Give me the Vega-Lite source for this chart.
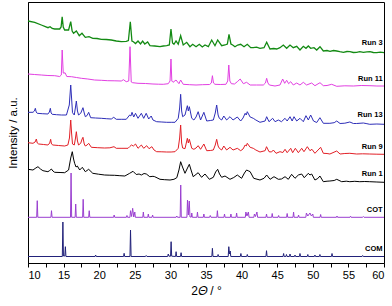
{
"$schema":"https://vega.github.io/schema/vega-lite/v6.json",
"width":356,"height":261,
"autosize":{"type":"none"},
"padding":{"left":28,"top":2,"right":8,"bottom":43},
"background":"white",
"config":{"view":{"stroke":"black","strokeWidth":1},"font":"Liberation Sans"},
"datasets":{
"run3":[{"x":10,"y":242},{"x":10.94,"y":240.7},{"x":11.87,"y":238},{"x":12.81,"y":235.3},{"x":13.1,"y":236.3},{"x":13.4,"y":234.5},{"x":13.75,"y":234},{"x":14.45,"y":234},{"x":14.65,"y":236},{"x":14.8,"y":246.3},{"x":14.95,"y":236},{"x":15.15,"y":233},{"x":15.7,"y":233},{"x":16.0,"y":241.3},{"x":16.2,"y":232},{"x":16.4,"y":229.7},{"x":16.79,"y":232},{"x":17.2,"y":227.3},{"x":17.58,"y":229.7},{"x":18.05,"y":225.7},{"x":18.57,"y":226.3},{"x":19.1,"y":224.7},{"x":19.7,"y":224.5},{"x":20.3,"y":223.7},{"x":21.0,"y":223.5},{"x":21.7,"y":223},{"x":22.4,"y":222},{"x":23.1,"y":221.3},{"x":23.8,"y":221.7},{"x":24.1,"y":222.5},{"x":24.37,"y":241.3},{"x":24.6,"y":222},{"x":24.8,"y":221.3},{"x":25.1,"y":219.5},{"x":25.45,"y":222},{"x":25.8,"y":219},{"x":26.1,"y":222},{"x":26.4,"y":219},{"x":26.8,"y":221},{"x":27.13,"y":217.3},{"x":27.8,"y":217},{"x":28.54,"y":216.3},{"x":29.0,"y":217},{"x":29.48,"y":217.3},{"x":29.85,"y":218},{"x":30.08,"y":234},{"x":30.3,"y":220},{"x":30.5,"y":218.7},{"x":30.79,"y":222},{"x":31.1,"y":218.7},{"x":31.44,"y":227.3},{"x":31.8,"y":218},{"x":32.29,"y":220.7},{"x":32.75,"y":216.3},{"x":33.13,"y":218.7},{"x":33.6,"y":216.3},{"x":34.06,"y":218.7},{"x":34.48,"y":216},{"x":34.86,"y":218},{"x":35.33,"y":216.3},{"x":35.8,"y":223},{"x":36.26,"y":217.3},{"x":36.64,"y":223},{"x":37.2,"y":217.3},{"x":37.67,"y":218},{"x":38.0,"y":219},{"x":38.23,"y":228.7},{"x":38.5,"y":219},{"x":38.75,"y":218},{"x":39.07,"y":216.3},{"x":39.45,"y":218},{"x":39.87,"y":218.7},{"x":40.34,"y":216.3},{"x":40.8,"y":218.7},{"x":41.28,"y":215.3},{"x":41.64,"y":215.3},{"x":42.1,"y":215.8},{"x":42.58,"y":214.7},{"x":43.15,"y":215.3},{"x":43.52,"y":220.7},{"x":43.99,"y":214},{"x":44.5,"y":214.5},{"x":44.93,"y":214},{"x":45.39,"y":215.3},{"x":45.86,"y":218},{"x":46.33,"y":214.7},{"x":46.8,"y":218},{"x":47.26,"y":215.3},{"x":47.74,"y":216.7},{"x":48.2,"y":213},{"x":48.67,"y":216.7},{"x":49.04,"y":214.7},{"x":49.37,"y":217},{"x":49.7,"y":214.7},{"x":50.17,"y":215.3},{"x":50.55,"y":213},{"x":51.01,"y":216.3},{"x":51.48,"y":212},{"x":52.0,"y":212.5},{"x":52.42,"y":211.7},{"x":52.9,"y":212.5},{"x":53.36,"y":212},{"x":53.8,"y":211.3},{"x":54.29,"y":210.7},{"x":54.8,"y":211.5},{"x":55.22,"y":211.3},{"x":55.7,"y":210.5},{"x":56.16,"y":210.7},{"x":56.6,"y":211.3},{"x":57.1,"y":210.7},{"x":57.6,"y":211.2},{"x":58.03,"y":211.3},{"x":58.5,"y":210.5},{"x":58.97,"y":210.3},{"x":59.5,"y":210.8},{"x":60,"y":210.3}],
"run11":[{"x":10,"y":189},{"x":10.9,"y":188.5},{"x":11.87,"y":188},{"x":12.8,"y":187.5},{"x":13.75,"y":187.3},{"x":14.45,"y":186.5},{"x":14.68,"y":188},{"x":14.8,"y":213},{"x":14.95,"y":190},{"x":15.05,"y":189.7},{"x":15.2,"y":190.3},{"x":15.45,"y":186.5},{"x":16.1,"y":186.3},{"x":16.8,"y":185.5},{"x":17.5,"y":184.7},{"x":18.4,"y":184},{"x":19.35,"y":183},{"x":20.3,"y":182.7},{"x":21.2,"y":182.3},{"x":22.2,"y":182.2},{"x":23.1,"y":182},{"x":23.4,"y":183.3},{"x":23.8,"y":181.3},{"x":24.15,"y":182},{"x":24.33,"y":216.3},{"x":24.5,"y":181},{"x":24.7,"y":180.3},{"x":25.45,"y":179.7},{"x":26.5,"y":179.5},{"x":27.55,"y":179},{"x":28.3,"y":178.8},{"x":29.0,"y":178.7},{"x":29.7,"y":179.3},{"x":29.95,"y":182},{"x":30.08,"y":204},{"x":30.2,"y":182},{"x":30.37,"y":180.7},{"x":30.79,"y":183},{"x":31.2,"y":179.3},{"x":31.44,"y":183},{"x":31.8,"y":178.7},{"x":32.7,"y":178.3},{"x":33.6,"y":178},{"x":34.5,"y":178.3},{"x":35.5,"y":178.5},{"x":35.75,"y":180},{"x":35.9,"y":187.3},{"x":36.05,"y":180},{"x":36.26,"y":178.7},{"x":37.0,"y":178.5},{"x":37.8,"y":178.7},{"x":38.05,"y":182},{"x":38.2,"y":198},{"x":38.35,"y":182},{"x":38.56,"y":179.3},{"x":39.0,"y":179},{"x":39.4,"y":181.3},{"x":39.8,"y":184},{"x":40.25,"y":179.3},{"x":40.7,"y":180.7},{"x":41.2,"y":178},{"x":42.1,"y":178},{"x":43.05,"y":178},{"x":43.35,"y":180},{"x":43.52,"y":184.7},{"x":43.7,"y":180},{"x":43.9,"y":178},{"x":44.69,"y":177},{"x":45.39,"y":178},{"x":45.77,"y":184},{"x":46.05,"y":179.7},{"x":46.33,"y":182.7},{"x":46.6,"y":179.3},{"x":46.9,"y":181.3},{"x":47.26,"y":178},{"x":47.74,"y":180},{"x":48.2,"y":178},{"x":48.67,"y":180.7},{"x":49.13,"y":178},{"x":49.84,"y":180},{"x":50.3,"y":177.3},{"x":51.01,"y":180.3},{"x":51.48,"y":177.3},{"x":52.0,"y":177.5},{"x":52.65,"y":178.7},{"x":53.36,"y":176.7},{"x":54.5,"y":177.2},{"x":55.7,"y":177},{"x":56.8,"y":177.5},{"x":58.03,"y":177.3},{"x":59.0,"y":177},{"x":60,"y":177}],
"run13":[{"x":10,"y":150.7},{"x":10.7,"y":150.7},{"x":10.9,"y":152},{"x":11.03,"y":154.7},{"x":11.15,"y":151},{"x":11.3,"y":149.7},{"x":12.0,"y":149.3},{"x":12.8,"y":149},{"x":13.0,"y":151},{"x":13.14,"y":154.7},{"x":13.25,"y":150},{"x":13.4,"y":148.7},{"x":14.0,"y":148.3},{"x":14.7,"y":148},{"x":15.4,"y":148},{"x":15.8,"y":158},{"x":16.0,"y":178},{"x":16.12,"y":165},{"x":16.25,"y":150.3},{"x":16.5,"y":148},{"x":16.65,"y":155},{"x":16.79,"y":162},{"x":16.95,"y":152},{"x":17.1,"y":148},{"x":17.4,"y":149.7},{"x":17.72,"y":155.3},{"x":17.9,"y":150},{"x":18.05,"y":146.3},{"x":18.3,"y":147.5},{"x":18.52,"y":150.7},{"x":18.8,"y":145.3},{"x":19.5,"y":145},{"x":20.3,"y":144.7},{"x":21.0,"y":144.3},{"x":21.7,"y":144},{"x":22.04,"y":145.7},{"x":22.4,"y":143.7},{"x":23.1,"y":143.7},{"x":23.8,"y":143.7},{"x":24.28,"y":148},{"x":24.45,"y":147},{"x":24.61,"y":150.7},{"x":24.85,"y":146},{"x":25.1,"y":149.7},{"x":25.45,"y":144.7},{"x":25.92,"y":149.7},{"x":26.25,"y":144.7},{"x":26.6,"y":149.7},{"x":26.95,"y":144},{"x":27.3,"y":147},{"x":27.55,"y":143},{"x":28.07,"y":141.3},{"x":28.8,"y":141},{"x":29.48,"y":140.7},{"x":30.2,"y":140.7},{"x":30.65,"y":140.7},{"x":31.1,"y":144.7},{"x":31.3,"y":155},{"x":31.44,"y":168.7},{"x":31.58,"y":152},{"x":31.72,"y":146.3},{"x":32.05,"y":148},{"x":32.38,"y":157.3},{"x":32.52,"y":152},{"x":32.66,"y":156.3},{"x":33.0,"y":144.7},{"x":33.3,"y":143},{"x":33.6,"y":146},{"x":33.9,"y":151.3},{"x":34.24,"y":143},{"x":34.7,"y":150.7},{"x":35.1,"y":142},{"x":35.6,"y":142.5},{"x":36.03,"y":143},{"x":36.3,"y":150},{"x":36.5,"y":158},{"x":36.7,"y":148},{"x":36.87,"y":144.7},{"x":37.2,"y":143},{"x":37.5,"y":147},{"x":37.9,"y":143},{"x":38.37,"y":146.3},{"x":38.8,"y":143},{"x":39.4,"y":146},{"x":39.87,"y":142},{"x":40.2,"y":145},{"x":40.5,"y":149.7},{"x":40.65,"y":148},{"x":40.8,"y":151.3},{"x":41.2,"y":146},{"x":41.64,"y":144.7},{"x":42.0,"y":143},{"x":42.58,"y":140.7},{"x":43.3,"y":142},{"x":43.52,"y":146.3},{"x":43.85,"y":141.3},{"x":44.36,"y":144.7},{"x":44.7,"y":141.3},{"x":45.16,"y":143},{"x":45.6,"y":141.3},{"x":46.1,"y":144.7},{"x":46.4,"y":142},{"x":46.8,"y":146.3},{"x":47.1,"y":142},{"x":47.36,"y":146.3},{"x":47.74,"y":142},{"x":48.2,"y":144.7},{"x":48.67,"y":141.3},{"x":49.04,"y":147.3},{"x":49.37,"y":143},{"x":49.7,"y":148},{"x":50.1,"y":142},{"x":50.55,"y":140.5},{"x":51.0,"y":145.3},{"x":51.48,"y":139.7},{"x":52.4,"y":139.7},{"x":53.0,"y":140.3},{"x":53.36,"y":142},{"x":53.83,"y":139.5},{"x":54.5,"y":139.8},{"x":55.2,"y":141},{"x":55.7,"y":139.5},{"x":56.16,"y":139.5},{"x":57.1,"y":140},{"x":57.6,"y":139.3},{"x":58.0,"y":138.7},{"x":59.0,"y":139},{"x":60,"y":138.7}],
"run9":[{"x":10,"y":120.3},{"x":10.7,"y":119.7},{"x":11.0,"y":121},{"x":11.17,"y":124},{"x":11.3,"y":120},{"x":11.5,"y":119},{"x":12.2,"y":118.5},{"x":12.8,"y":118},{"x":13.05,"y":120},{"x":13.18,"y":123.7},{"x":13.3,"y":119},{"x":13.5,"y":118},{"x":14.3,"y":117.5},{"x":15.15,"y":117},{"x":15.6,"y":118},{"x":15.82,"y":125},{"x":16.0,"y":143},{"x":16.12,"y":130},{"x":16.25,"y":119},{"x":16.5,"y":118},{"x":16.65,"y":124},{"x":16.79,"y":131.3},{"x":16.95,"y":122},{"x":17.1,"y":118},{"x":17.4,"y":119.7},{"x":17.6,"y":124},{"x":17.72,"y":125.7},{"x":17.9,"y":119},{"x":18.05,"y":117},{"x":18.3,"y":118},{"x":18.52,"y":119.7},{"x":18.9,"y":115.7},{"x":19.8,"y":115.3},{"x":20.77,"y":115},{"x":21.5,"y":115.2},{"x":22.08,"y":116.3},{"x":22.4,"y":114.7},{"x":23.2,"y":114.7},{"x":24.05,"y":114.7},{"x":24.3,"y":116.5},{"x":24.52,"y":118},{"x":24.8,"y":117},{"x":25.1,"y":119},{"x":25.45,"y":114.7},{"x":25.92,"y":118},{"x":26.25,"y":114.7},{"x":26.67,"y":117.3},{"x":27.0,"y":114.3},{"x":27.4,"y":116.3},{"x":27.7,"y":113},{"x":28.07,"y":111.3},{"x":28.8,"y":111.2},{"x":29.48,"y":111},{"x":30.1,"y":111},{"x":30.65,"y":111.3},{"x":31.1,"y":114.7},{"x":31.3,"y":125},{"x":31.44,"y":138},{"x":31.58,"y":120},{"x":31.72,"y":115},{"x":32.05,"y":114.3},{"x":32.38,"y":124.7},{"x":32.52,"y":120},{"x":32.66,"y":123.7},{"x":33.0,"y":114.7},{"x":33.3,"y":113.7},{"x":33.6,"y":115},{"x":33.9,"y":117.3},{"x":34.24,"y":113.7},{"x":34.7,"y":119},{"x":35.1,"y":112.3},{"x":35.6,"y":112.5},{"x":36.03,"y":113},{"x":36.3,"y":118},{"x":36.5,"y":123.7},{"x":36.7,"y":117},{"x":36.87,"y":114.7},{"x":37.2,"y":113},{"x":37.5,"y":117},{"x":37.9,"y":113},{"x":38.37,"y":115.7},{"x":38.8,"y":113},{"x":39.4,"y":114.7},{"x":39.87,"y":112.3},{"x":40.2,"y":114},{"x":40.5,"y":118},{"x":40.65,"y":117},{"x":40.8,"y":119.7},{"x":41.2,"y":115.7},{"x":41.64,"y":114.7},{"x":42.0,"y":113},{"x":42.58,"y":111},{"x":43.3,"y":112.3},{"x":43.5,"y":116.3},{"x":43.85,"y":111.3},{"x":44.2,"y":111},{"x":44.46,"y":113},{"x":44.84,"y":109.7},{"x":45.39,"y":111.3},{"x":45.8,"y":110.5},{"x":46.1,"y":113.7},{"x":46.4,"y":110.3},{"x":46.9,"y":114.7},{"x":47.17,"y":110.3},{"x":47.55,"y":114.7},{"x":47.97,"y":110.3},{"x":48.44,"y":114.7},{"x":48.76,"y":111.3},{"x":49.23,"y":116.3},{"x":49.6,"y":112.3},{"x":49.88,"y":113.7},{"x":50.3,"y":109.7},{"x":51.1,"y":115.7},{"x":51.48,"y":109.7},{"x":52.0,"y":109.5},{"x":52.4,"y":109},{"x":53.36,"y":112},{"x":53.83,"y":109},{"x":54.5,"y":109.5},{"x":55.2,"y":109.7},{"x":56.16,"y":109},{"x":57.0,"y":109.2},{"x":58.0,"y":109},{"x":59.0,"y":108.8},{"x":60,"y":108.7}],
"run1":[{"x":10,"y":93.7},{"x":10.7,"y":93},{"x":11.1,"y":95},{"x":11.4,"y":96.3},{"x":11.75,"y":94},{"x":12.1,"y":92.3},{"x":12.8,"y":91.3},{"x":13.05,"y":92.5},{"x":13.28,"y":94},{"x":13.5,"y":92},{"x":13.75,"y":90.7},{"x":14.5,"y":90.5},{"x":15.15,"y":90.3},{"x":15.7,"y":93},{"x":16.0,"y":105},{"x":16.22,"y":111.3},{"x":16.4,"y":104},{"x":16.55,"y":99.7},{"x":16.75,"y":96},{"x":16.93,"y":97},{"x":17.26,"y":93},{"x":17.63,"y":95.7},{"x":18.05,"y":91.3},{"x":18.52,"y":93.7},{"x":19.1,"y":89.7},{"x":19.9,"y":88.8},{"x":20.77,"y":88},{"x":21.5,"y":87.8},{"x":22.17,"y":87.7},{"x":22.9,"y":87.3},{"x":23.6,"y":87},{"x":24.28,"y":89.7},{"x":24.75,"y":91.7},{"x":25.2,"y":88.5},{"x":25.6,"y":89},{"x":25.92,"y":88},{"x":26.3,"y":89.5},{"x":26.62,"y":89},{"x":27.1,"y":86.3},{"x":27.55,"y":86.7},{"x":27.8,"y":86.3},{"x":28.54,"y":83.7},{"x":29.2,"y":83.3},{"x":29.95,"y":83},{"x":30.5,"y":83.7},{"x":30.9,"y":85.3},{"x":31.2,"y":93},{"x":31.44,"y":101.3},{"x":31.7,"y":96},{"x":32.05,"y":89.7},{"x":32.4,"y":95},{"x":32.66,"y":98.7},{"x":32.9,"y":93},{"x":33.2,"y":86.3},{"x":33.9,"y":90.3},{"x":34.38,"y":85.7},{"x":34.86,"y":89},{"x":35.47,"y":83.7},{"x":36.03,"y":85.7},{"x":36.35,"y":91},{"x":36.64,"y":93.7},{"x":36.9,"y":89},{"x":37.2,"y":85.7},{"x":37.67,"y":87},{"x":38.37,"y":83.7},{"x":38.9,"y":85.5},{"x":39.4,"y":88},{"x":40.0,"y":84.7},{"x":40.4,"y":90},{"x":40.7,"y":93},{"x":41.0,"y":92},{"x":41.2,"y":91.3},{"x":41.7,"y":84.7},{"x":42.58,"y":83},{"x":43.15,"y":84.7},{"x":43.52,"y":88},{"x":44.0,"y":83.7},{"x":44.55,"y":86.3},{"x":45.16,"y":83.7},{"x":45.6,"y":84},{"x":46.1,"y":86.3},{"x":46.56,"y":83.7},{"x":47.03,"y":88.7},{"x":47.5,"y":84.7},{"x":47.97,"y":88},{"x":48.44,"y":89},{"x":48.8,"y":85.3},{"x":49.37,"y":89.7},{"x":49.6,"y":88},{"x":49.84,"y":89},{"x":50.3,"y":83},{"x":50.7,"y":84.5},{"x":51.0,"y":87},{"x":51.48,"y":81.3},{"x":52.0,"y":81.8},{"x":52.4,"y":82},{"x":53.0,"y":82.5},{"x":53.36,"y":83.7},{"x":54.06,"y":81.3},{"x":54.7,"y":81.8},{"x":55.2,"y":81.3},{"x":55.9,"y":81.7},{"x":56.6,"y":81.3},{"x":57.3,"y":81.5},{"x":58.0,"y":81.3},{"x":59.0,"y":81},{"x":60,"y":80.7}],
"cot":[{"x":10,"y":45.7},{"x":11.22,"y":45.7},{"x":11.3,"y":62.3},{"x":11.38,"y":45.7},{"x":13.22,"y":45.7},{"x":13.3,"y":52.3},{"x":13.38,"y":45.7},{"x":15.97,"y":45.7},{"x":16.05,"y":90},{"x":16.13,"y":45.7},{"x":16.62,"y":45.7},{"x":16.7,"y":59},{"x":16.78,"y":45.7},{"x":17.67,"y":45.7},{"x":17.75,"y":63.7},{"x":17.83,"y":45.7},{"x":18.52,"y":45.7},{"x":18.6,"y":52.3},{"x":18.68,"y":45.7},{"x":22.02,"y":45.7},{"x":22.1,"y":48},{"x":22.18,"y":45.7},{"x":23.82,"y":45.7},{"x":23.9,"y":47.5},{"x":23.98,"y":45.7},{"x":24.32,"y":45.7},{"x":24.4,"y":52.3},{"x":24.55,"y":46.5},{"x":24.7,"y":54.7},{"x":24.85,"y":46},{"x":25.0,"y":51},{"x":25.08,"y":45.7},{"x":26.12,"y":45.7},{"x":26.2,"y":51},{"x":26.28,"y":45.7},{"x":26.82,"y":45.7},{"x":26.9,"y":49},{"x":26.98,"y":45.7},{"x":27.42,"y":45.7},{"x":27.5,"y":48},{"x":27.58,"y":45.7},{"x":30.8,"y":45.7},{"x":30.9,"y":47},{"x":31.0,"y":45.7},{"x":31.37,"y":45.7},{"x":31.45,"y":78},{"x":31.53,"y":45.7},{"x":32.32,"y":45.7},{"x":32.4,"y":63},{"x":32.52,"y":48},{"x":32.65,"y":62},{"x":32.75,"y":46},{"x":32.95,"y":46},{"x":33.0,"y":50},{"x":33.08,"y":45.7},{"x":33.72,"y":45.7},{"x":33.8,"y":51},{"x":33.88,"y":45.7},{"x":34.62,"y":45.7},{"x":34.7,"y":49},{"x":34.78,"y":45.7},{"x":35.5,"y":45.7},{"x":35.6,"y":47.5},{"x":35.7,"y":45.7},{"x":36.52,"y":45.7},{"x":36.6,"y":52.3},{"x":36.68,"y":45.7},{"x":37.52,"y":45.7},{"x":37.6,"y":49},{"x":37.68,"y":45.7},{"x":38.42,"y":45.7},{"x":38.5,"y":49},{"x":38.58,"y":45.7},{"x":39.22,"y":45.7},{"x":39.3,"y":50},{"x":39.38,"y":45.7},{"x":40.52,"y":45.7},{"x":40.6,"y":51},{"x":40.75,"y":47},{"x":40.95,"y":51},{"x":41.05,"y":45.7},{"x":41.72,"y":45.7},{"x":41.8,"y":49},{"x":41.95,"y":46.5},{"x":42.15,"y":51},{"x":42.25,"y":45.7},{"x":43.42,"y":45.7},{"x":43.5,"y":49},{"x":43.58,"y":45.7},{"x":44.22,"y":45.7},{"x":44.3,"y":49.5},{"x":44.38,"y":45.7},{"x":45.12,"y":45.7},{"x":45.2,"y":47.5},{"x":45.28,"y":45.7},{"x":46.32,"y":45.7},{"x":46.4,"y":49.5},{"x":46.48,"y":45.7},{"x":47.22,"y":45.7},{"x":47.3,"y":51},{"x":47.38,"y":45.7},{"x":47.92,"y":45.7},{"x":48.0,"y":48},{"x":48.08,"y":45.7},{"x":49.02,"y":45.7},{"x":49.1,"y":50},{"x":49.3,"y":47},{"x":49.6,"y":50},{"x":49.8,"y":47},{"x":50.0,"y":49},{"x":50.08,"y":45.7},{"x":51.02,"y":45.7},{"x":51.1,"y":48.5},{"x":51.18,"y":45.7},{"x":53.32,"y":45.7},{"x":53.4,"y":47},{"x":53.48,"y":45.7},{"x":55.22,"y":45.7},{"x":55.3,"y":46.8},{"x":55.38,"y":45.7},{"x":57.0,"y":45.7},{"x":57.1,"y":46.5},{"x":57.2,"y":45.7},{"x":60,"y":45.7}],
"com":[{"x":10,"y":6.5},{"x":14.82,"y":6.5},{"x":14.9,"y":41},{"x":14.98,"y":7},{"x":15.17,"y":7},{"x":15.25,"y":16.3},{"x":15.33,"y":6.5},{"x":19.42,"y":6.5},{"x":19.5,"y":8},{"x":19.58,"y":6.5},{"x":23.42,"y":6.5},{"x":23.5,"y":9.7},{"x":23.58,"y":6.5},{"x":24.32,"y":6.5},{"x":24.4,"y":33},{"x":24.48,"y":6.5},{"x":26.5,"y":6.5},{"x":26.6,"y":7.5},{"x":26.7,"y":6.5},{"x":29.62,"y":6.5},{"x":29.7,"y":9},{"x":29.8,"y":6.8},{"x":30.02,"y":6.8},{"x":30.1,"y":21.3},{"x":30.18,"y":6.8},{"x":30.72,"y":6.5},{"x":30.8,"y":11.3},{"x":30.88,"y":6.5},{"x":31.42,"y":6.5},{"x":31.5,"y":10.3},{"x":31.58,"y":6.5},{"x":35.82,"y":6.5},{"x":35.9,"y":14.7},{"x":35.98,"y":6.5},{"x":36.62,"y":6.5},{"x":36.7,"y":8.5},{"x":36.78,"y":6.5},{"x":38.12,"y":6.5},{"x":38.2,"y":16.3},{"x":38.3,"y":9},{"x":38.4,"y":12},{"x":38.48,"y":6.5},{"x":39.82,"y":6.5},{"x":39.9,"y":9.5},{"x":39.98,"y":6.5},{"x":40.72,"y":6.5},{"x":40.8,"y":8.5},{"x":40.88,"y":6.5},{"x":43.42,"y":6.5},{"x":43.5,"y":12.3},{"x":43.58,"y":6.5},{"x":45.82,"y":6.5},{"x":45.9,"y":9.5},{"x":45.98,"y":6.5},{"x":46.22,"y":6.5},{"x":46.3,"y":8.5},{"x":46.38,"y":6.5},{"x":46.72,"y":6.5},{"x":46.8,"y":9},{"x":46.88,"y":6.5},{"x":47.42,"y":6.5},{"x":47.5,"y":8},{"x":47.58,"y":6.5},{"x":48.12,"y":6.5},{"x":48.2,"y":9.5},{"x":48.28,"y":6.5},{"x":49.22,"y":6.5},{"x":49.3,"y":8.5},{"x":49.38,"y":6.5},{"x":50.22,"y":6.5},{"x":50.3,"y":8},{"x":50.38,"y":6.5},{"x":50.92,"y":6.5},{"x":51.0,"y":8.5},{"x":51.08,"y":6.5},{"x":52.62,"y":6.5},{"x":52.7,"y":9.5},{"x":52.78,"y":6.5},{"x":56.92,"y":6.5},{"x":57.0,"y":7.5},{"x":57.08,"y":6.5},{"x":60,"y":6.5}],
"labels":[{"x":59.8,"y":220,"label":"Run 3"},{"x":59.8,"y":184,"label":"Run 11"},{"x":59.8,"y":148,"label":"Run 13"},{"x":59.8,"y":116,"label":"Run 9"},{"x":59.8,"y":89,"label":"Run 1"},{"x":59.8,"y":53,"label":"COT"},{"x":59.8,"y":14,"label":"COM"}]
},
"encoding":{
"x":{"field":"x","type":"quantitative","scale":{"domain":[10,60],"nice":false,"zero":false},
"axis":{"title":"2𝛩 / °","values":[10,12.5,15,17.5,20,22.5,25,27.5,30,32.5,35,37.5,40,42.5,45,47.5,50,52.5,55,57.5,60],"labelExpr":"datum.value % 5 === 0 ? format(datum.value, 'd') : ''","tickSize":4,"tickColor":"black","domainColor":"black","labelColor":"black","labelFontSize":11,"labelPadding":2,"labelFont":"Liberation Sans","titleFont":"Liberation Sans","titleFontSize":12,"titleFontWeight":"normal","titleColor":"black","titlePadding":5,"grid":false}},
"y":{"field":"y","type":"quantitative","scale":{"domain":[0,261],"nice":false,"zero":false},
"axis":{"title":"Intensity / a.u.","ticks":false,"labels":false,"domainColor":"black","grid":false,"titleFont":"Liberation Sans","titleFontSize":11.5,"titleFontWeight":"normal","titleColor":"black","titlePadding":10}}
},
"layer":[
{"data":{"name":"com"},"mark":{"type":"line","color":"#22227a","strokeWidth":1},"encoding":{}},
{"data":{"name":"cot"},"mark":{"type":"line","color":"#9a3fd0","strokeWidth":1},"encoding":{}},
{"data":{"name":"run1"},"mark":{"type":"line","color":"#000000","strokeWidth":1},"encoding":{}},
{"data":{"name":"run9"},"mark":{"type":"line","color":"#e21f26","strokeWidth":1},"encoding":{}},
{"data":{"name":"run13"},"mark":{"type":"line","color":"#2e2eb8","strokeWidth":1},"encoding":{}},
{"data":{"name":"run11"},"mark":{"type":"line","color":"#e23fe2","strokeWidth":1},"encoding":{}},
{"data":{"name":"run3"},"mark":{"type":"line","color":"#138a13","strokeWidth":1.3},"encoding":{}},
{"data":{"name":"labels"},"mark":{"type":"text","align":"right","baseline":"middle","fontWeight":"bold","fontSize":7.5,"font":"Liberation Sans","color":"black"},"encoding":{"text":{"field":"label","type":"nominal"}}}
]
}
